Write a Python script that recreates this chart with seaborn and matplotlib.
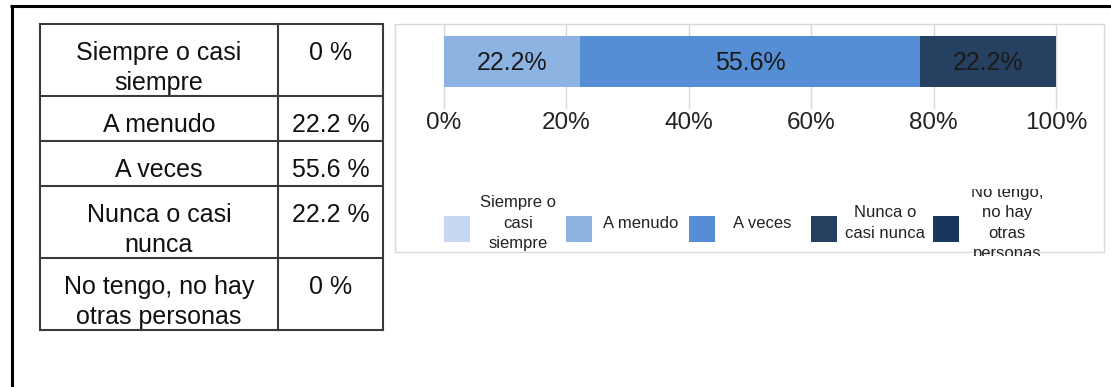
import textwrap

import numpy as np
import pandas as pd
import seaborn as sns
import matplotlib
matplotlib.use("Agg")
import matplotlib.pyplot as plt
from matplotlib.patches import Rectangle
from matplotlib.transforms import Bbox, TransformedBbox

# --- data -------------------------------------------------------------
categories = [
    "Siempre o casi siempre",
    "A menudo",
    "A veces",
    "Nunca o casi nunca",
    "No tengo, no hay otras personas",
]
percentages = [0.0, 22.2, 55.6, 22.2, 0.0]
palette = ["#c6d9f1", "#8db3e2", "#558ed5", "#254061", "#17375e"]
tick_values = [0, 20, 40, 60, 80, 100]
tick_labels = [f"{v}%" for v in tick_values]

# --- figure -----------------------------------------------------------
W, H = 1111, 387
sns.set_theme(style="white")
plt.rcParams["font.family"] = ["Liberation Sans", "DejaVu Sans"]

fig = plt.figure(figsize=(W / 100, H / 100), dpi=100)
fig.patch.set_facecolor("white")

# pixel-space canvas for the frame, the table and the legend
bg = fig.add_axes([0, 0, 1, 1])
bg.set_xlim(0, W)
bg.set_ylim(H, 0)
bg.axis("off")

# outer frame (top and left edges)
bg.plot([11.5, 11.5], [6, H + 5], color="black", lw=2.2, solid_capstyle="butt")
bg.plot([10, W + 5], [5.5, 5.5], color="black", lw=2.2, solid_capstyle="butt")

# --- summary table ----------------------------------------------------
tx0, txm, tx1 = 40, 278, 383
row_top = 24
table_color = "#3a3a3a"
row_edges = [row_top]
for cat, pct in zip(categories, percentages):
    label = textwrap.fill(cat, 16)
    n = label.count("\n") + 1
    h = 18 + 27 * n
    bg.text((tx0 + txm) / 2, row_top + 17, label, ha="center", va="top",
            fontsize=18, linespacing=1.31, multialignment="center", color="#111111")
    bg.text((txm + tx1) / 2, row_top + 17, f"{pct:g} %", ha="center", va="top",
            fontsize=18, color="#111111")
    row_top += h
    row_edges.append(row_top)

for y in row_edges:
    bg.plot([tx0, tx1], [y, y], color=table_color, lw=1.5, solid_capstyle="projecting")
for x in (tx0, txm, tx1):
    bg.plot([x, x], [row_edges[0], row_edges[-1]], color=table_color, lw=1.5,
            solid_capstyle="projecting")

# --- chart frame ------------------------------------------------------
bg.add_patch(Rectangle((395, 24), 1104 - 395, 252 - 24, fill=False,
                       ec="#d9d9d9", lw=1.0))

# --- 100% stacked bar -------------------------------------------------
ax = fig.add_axes([444 / W, 1 - 108 / H, (1056 - 444) / W, (108 - 24) / H])
ax.set_facecolor("none")
cumulative = np.cumsum(percentages)
df = pd.DataFrame({"grupo": [""] * len(categories),
                   "categoria": categories,
                   "acumulado": cumulative})
sns.barplot(data=df, x="acumulado", y="grupo", hue="categoria",
            hue_order=categories[::-1], palette=dict(zip(categories, palette)),
            dodge=False, width=1, saturation=1, legend=False, orient="h",
            linewidth=0, ax=ax)

for pct, end in zip(percentages, cumulative):
    if pct > 0:
        ax.text(end - pct / 2, 0.03, f"{pct}%", ha="center", va="center",
                fontsize=18, color="#1a1a1a")

ax.set_xlim(0, 100)
ax.set_ylim(0.912, -0.735)
ax.set_xticks(tick_values, tick_labels)
ax.set_yticks([])
ax.set_xlabel("")
ax.set_ylabel("")
ax.tick_params(axis="x", length=0, pad=3, labelsize=17.5, labelcolor="#222222")
for s in ax.spines.values():
    s.set_visible(False)
ax.grid(axis="x", color="#d9d9d9", lw=1)
ax.set_axisbelow(True)
for gl in ax.get_xgridlines():
    gl.set_clip_on(False)

# --- legend -----------------------------------------------------------
clip = TransformedBbox(Bbox.from_extents(395 / W, 1 - 256 / H, 1104 / W, 1 - 189 / H),
                       fig.transFigure)
for i, (cat, col) in enumerate(zip(categories, palette)):
    sx = 444 + 122.3 * i
    bg.add_patch(Rectangle((sx, 216), 26, 26, color=col, lw=0))
    t = bg.text(sx + 74, 223, textwrap.fill(cat, 10), ha="center", va="center",
                multialignment="center", fontsize=12, linespacing=1.47,
                color="#222222", clip_on=True)
    t.set_clip_box(clip)

fig.savefig("out.png", dpi=100, facecolor="white")
